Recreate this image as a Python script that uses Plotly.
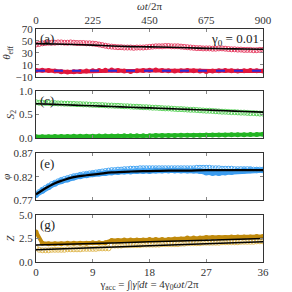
import numpy as np
import plotly.graph_objects as go

# ---------------- data ----------------
x_open = list(np.arange(0, 36.01, 0.5))    # gamma_acc sampling for open markers
x_fill = list(np.arange(0, 36.01, 1.0))    # gamma_acc sampling for filled markers
x_fit = [0, 3, 6, 9, 12, 15, 18, 21, 24, 27, 30, 33, 36]
x_fit_phi = [0, 1, 2, 3, 4, 6, 8, 10, 12, 15, 18, 21, 24, 27, 30, 33, 36]
x_fit_z = [0, 9, 18, 27, 36]

top_ticks = [0, 225, 450, 675, 900]
bot_ticks = [0, 9, 18, 27, 36]

theta_open = [44, 45, 46, 46.5, 47, 47, 47,
              47.5, 47.5, 47, 47, 47.5, 47, 46.5, 46.5, 46.5, 46, 46, 45.5, 45,
              44, 43, 42, 41, 40.5,
              40, 39.5, 39.5, 39, 39, 39, 38.5, 39, 39, 39, 39.5, 40,
              40.5, 41, 41, 41, 41.5, 41.5, 41, 41, 41, 40.5, 40, 39.5, 39,
              38.5, 38, 38, 37.5, 37.5, 37.5, 37, 37, 37.5, 37.5, 37, 36.5, 36, 36,
              35.5, 35.5, 35, 35, 35, 34.5, 34.5, 35, 35]
theta_fill = [0.5, 1, 0.5, -0.5, -1.5, -2, -1.5, -1, -0.5, 0, 0.5, 1, 1.5, 0.5, -0.5,
              -1, 0, 0.5, 1, 1.5, 0.5, 0, -0.5, 0, 0.5, 0, -0.5, -1, -0.5, 0, 0.5,
              0, -0.5, 0, 0.5, 0, -0.5]
theta_fit = [45.5, 45, 44, 43, 41.5, 40.5, 40, 39.5, 38.5, 37.5, 37, 36.5, 36]
theta_zero = [0, 0]

s2_open = [0.76, 0.75, 0.75, 0.745, 0.745, 0.74, 0.74, 0.735, 0.735, 0.73, 0.73, 0.725, 0.725,
           0.72, 0.72, 0.715, 0.715, 0.71, 0.705, 0.705, 0.70, 0.70, 0.695, 0.69, 0.69,
           0.685, 0.685, 0.68, 0.675, 0.675, 0.67, 0.665, 0.665, 0.66, 0.655, 0.655, 0.65,
           0.645, 0.645, 0.64, 0.635, 0.63, 0.63, 0.625, 0.62, 0.615, 0.615, 0.61, 0.605,
           0.60, 0.60, 0.595, 0.59, 0.585, 0.58, 0.58, 0.575, 0.57, 0.565, 0.56, 0.56,
           0.555, 0.55, 0.55, 0.545, 0.54, 0.54, 0.535, 0.53, 0.53, 0.525, 0.52, 0.52]
s2_fill = [0.03, 0.03, 0.03, 0.035, 0.035, 0.035, 0.04, 0.04, 0.04, 0.04,
           0.045, 0.045, 0.045, 0.045, 0.05, 0.05, 0.05, 0.05, 0.05,
           0.055, 0.055, 0.055, 0.055, 0.06, 0.06, 0.06, 0.06,
           0.065, 0.065, 0.065, 0.065, 0.07, 0.07, 0.07, 0.075, 0.075, 0.08]
s2_fit = [0.73, 0.715, 0.70, 0.685, 0.67, 0.655, 0.64, 0.625, 0.61, 0.595, 0.58, 0.565, 0.55]

phi_open = [0.782, 0.787, 0.792, 0.796, 0.80, 0.804, 0.807, 0.810, 0.813, 0.815, 0.817, 0.819, 0.821,
            0.822, 0.824, 0.825, 0.826, 0.827, 0.828, 0.829, 0.830, 0.831, 0.832, 0.833, 0.834,
            0.834, 0.835, 0.835, 0.836, 0.836, 0.837, 0.837, 0.837, 0.838, 0.838, 0.838, 0.838,
            0.838, 0.838, 0.838, 0.838, 0.838, 0.838, 0.838, 0.838, 0.838, 0.838, 0.838, 0.838,
            0.838, 0.838, 0.839, 0.839, 0.839, 0.839, 0.839, 0.838, 0.838, 0.838, 0.837, 0.837,
            0.837, 0.837, 0.836, 0.836, 0.836, 0.836, 0.836, 0.836, 0.835, 0.835, 0.835, 0.835]
phi_fill = [0.781, 0.79, 0.798, 0.805, 0.81, 0.814, 0.818, 0.821, 0.823, 0.825, 0.827, 0.828,
            0.829, 0.830, 0.831, 0.831, 0.832, 0.832, 0.832, 0.833, 0.833, 0.833, 0.833,
            0.833, 0.833, 0.833, 0.832, 0.829, 0.828, 0.828, 0.829, 0.830, 0.832, 0.833,
            0.834, 0.834, 0.834]
phi_fit = [0.782, 0.791, 0.799, 0.806, 0.811, 0.819, 0.823, 0.826, 0.829, 0.831, 0.832,
           0.833, 0.833, 0.834, 0.834, 0.834, 0.834]

z_fill = [3.2, 2.0, 1.95, 1.95, 1.95, 2.0, 2.0, 2.0, 2.0, 2.05, 2.05, 2.05,
          2.3, 2.3, 2.35, 2.35, 2.35, 2.35, 2.4, 2.4, 2.4, 2.4, 2.45, 2.45,
          2.55, 2.55, 2.55, 2.6, 2.6, 2.6, 2.6, 2.65, 2.65, 2.65, 2.65, 2.7, 2.7]
z_open = [1.5, 1.3, 1.25, 1.25, 1.25, 1.3, 1.3, 1.3, 1.3, 1.3, 1.35, 1.35, 1.35, 1.35, 1.35,
          1.4, 1.4, 1.4, 1.4, 1.4, 1.45, 1.45, 1.45, 1.45,
          1.75, 1.75, 1.75, 1.75, 1.8, 1.8, 1.8, 1.8, 1.8, 1.8, 1.85, 1.85, 1.85, 1.85, 1.85,
          1.85, 1.9, 1.9, 1.9, 1.9, 1.9, 1.9, 1.95, 1.95,
          2.0, 2.0, 2.0, 2.0, 2.0, 2.05, 2.05, 2.05, 2.05, 2.05, 2.05, 2.1, 2.1, 2.1, 2.1,
          2.1, 2.1, 2.15, 2.15, 2.15, 2.15, 2.15, 2.2, 2.2, 2.2]
z_fit_hi = [1.8, 1.97, 2.15, 2.32, 2.5]
z_fit_lo = [1.3, 1.52, 1.73, 1.94, 2.15]

# ---------------- figure ----------------
FONT = "Liberation Serif, DejaVu Serif, serif"
fig = go.Figure()

def open_pts(x, y, color, xa, ya, size=5):
    fig.add_trace(go.Scatter(x=x, y=y, mode="markers", xaxis=xa, yaxis=ya,
                             marker=dict(symbol="circle-open", size=size, color=color,
                                         line=dict(width=1, color=color)),
                             showlegend=False))

def fill_pts(x, y, color, xa, ya, lw=3, size=5):
    fig.add_trace(go.Scatter(x=x, y=y, mode="lines+markers", xaxis=xa, yaxis=ya,
                             line=dict(color=color, width=lw),
                             marker=dict(size=size, color=color),
                             showlegend=False))

def fit_line(x, y, xa, ya, color="black", width=1.6, dash="solid"):
    fig.add_trace(go.Scatter(x=x, y=y, mode="lines", xaxis=xa, yaxis=ya,
                             line=dict(color=color, width=width, dash=dash, shape="spline"),
                             showlegend=False))

# (a)
open_pts(x_open, theta_open, "#e8476a", "x2", "y")
fit_line(x_fit, theta_fit, "x2", "y")
fill_pts(x_fill, theta_fill, "#e0173c", "x2", "y", lw=4, size=5)
fit_line([0, 36], theta_zero, "x2", "y", color="#2a2ad8", width=2, dash="dash")
fig.add_trace(go.Scatter(x=[0, 900], y=[None, None], xaxis="x5", yaxis="y",
                         mode="lines", showlegend=False, hoverinfo="skip"))

# (c)
open_pts(x_open, s2_open, "#5fd45f", "x3", "y2")
fit_line(x_fit, s2_fit, "x3", "y2")
fill_pts(x_fill, s2_fill, "#22b422", "x3", "y2", lw=4, size=5)

# (e)
fill_pts(x_fill, phi_fill, "#3a9cf0", "x4", "y3", lw=5, size=6)
open_pts(x_open, phi_open, "#49a8f5", "x4", "y3")
fit_line(x_fit_phi, phi_fit, "x4", "y3", width=2.2)

# (g)
open_pts(x_open, z_open, "#e2bc5a", "x", "y4")
fill_pts(x_fill, z_fill, "#c08a0c", "x", "y4", lw=4, size=5)
fit_line(x_fit_z, z_fit_hi, "x", "y4", width=1.5)
fit_line(x_fit_z, z_fit_lo, "x", "y4", width=1.5)

axis_common = dict(showline=True, linecolor="#333333", linewidth=1, mirror="ticks",
                   ticks="inside", ticklen=3, tickcolor="#888888", showgrid=False,
                   zeroline=False, automargin=False,
                   tickfont=dict(family=FONT, size=11, color="#333333"))

doms = {"y": [0.795, 1.0], "y2": [0.532, 0.734], "y3": [0.266, 0.4665], "y4": [0.0, 0.2017]}

fig.update_layout(
    template="none",
    width=292, height=292,
    margin=dict(l=36, r=29, t=29, b=30, autoexpand=False),
    plot_bgcolor="white", paper_bgcolor="white",
    font=dict(family=FONT, size=11, color="#333333"),
    xaxis=dict(axis_common, anchor="y4", range=[0, 36], tickvals=bot_ticks, domain=[0, 1],
               title=dict(text="γ<sub>acc</sub> = ∫|<i>γ̇</i>|<i>dt</i> = 4γ<sub>0</sub><i>ωt</i>/2π",
                          font=dict(family=FONT, size=11), standoff=4)),
    xaxis2=dict(axis_common, anchor="y", matches="x", tickvals=bot_ticks, showticklabels=False, domain=[0, 1]),
    xaxis3=dict(axis_common, anchor="y2", matches="x", tickvals=bot_ticks, showticklabels=False, domain=[0, 1]),
    xaxis4=dict(axis_common, anchor="y3", matches="x", tickvals=bot_ticks, showticklabels=False, domain=[0, 1]),
    xaxis5=dict(axis_common, anchor="y", overlaying="x2", side="top", range=[0, 900],
                tickvals=top_ticks,
                title=dict(text="<i>ωt</i>/2π", font=dict(family=FONT, size=11), standoff=2)),
    yaxis=dict(axis_common, domain=doms["y"], anchor="x2", range=[-10, 70],
               tickvals=[-10, 10, 30, 50, 70],
               title=dict(text="<i>θ</i><sub>eff</sub>", font=dict(family=FONT, size=11), standoff=2)),
    yaxis2=dict(axis_common, domain=doms["y2"], anchor="x3", range=[0, 1],
                tickvals=[0, 0.5, 1.0], ticktext=["0.0", "0.5", "1.0"],
                title=dict(text="<i>S</i><sub>2</sub>", font=dict(family=FONT, size=11), standoff=2)),
    yaxis3=dict(axis_common, domain=doms["y3"], anchor="x4", range=[0.77, 0.87],
                tickvals=[0.77, 0.82, 0.87],
                title=dict(text="<i>φ</i>", font=dict(family=FONT, size=11), standoff=2)),
    yaxis4=dict(axis_common, domain=doms["y4"], anchor="x", range=[0, 5],
                tickvals=[0, 2.5, 5.0], ticktext=["0.0", "2.5", "5.0"],
                title=dict(text="<i>Z</i>", font=dict(family=FONT, size=11), standoff=2)),
)

labels = [("(a)", "y"), ("(c)", "y2"), ("(e)", "y3"), ("(g)", "y4")]
for txt, ya in labels:
    fig.add_annotation(text=txt, xref="x domain", yref=ya + " domain",
                       x=0.01, y=0.99, xanchor="left", yanchor="top", showarrow=False,
                       font=dict(family=FONT, size=13, color="#222222"))
fig.add_annotation(text="γ<sub>0</sub> = 0.01", xref="x domain", yref="y domain",
                   x=0.99, y=0.99, xanchor="right", yanchor="top", showarrow=False,
                   font=dict(family=FONT, size=13, color="#222222"))

fig.write_html("out.html", config={"displayModeBar": False},
               post_script="document.body.style.margin='0';document.body.style.padding='0';")
